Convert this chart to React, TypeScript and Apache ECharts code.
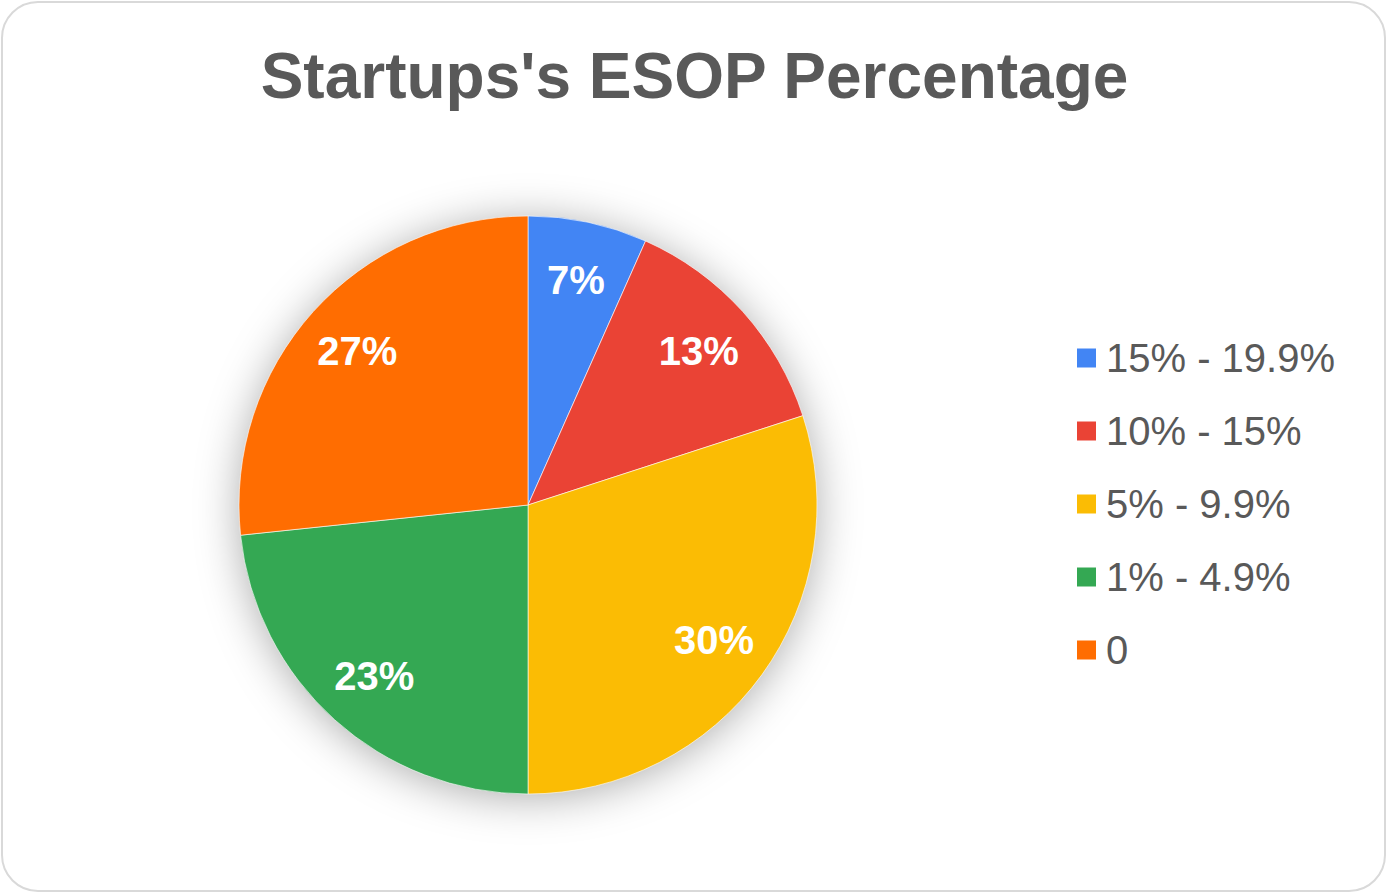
import React, { useEffect, useRef } from "react";
import * as echarts from "echarts";

const categories = ["15% - 19.9%", "10% - 15%", "5% - 9.9%", "1% - 4.9%", "0"];
const counts = [2, 4, 9, 7, 8];
const colors = ["#4285F4", "#EA4335", "#FBBC04", "#34A853", "#FF6D01"];
const titleText = "Startups's ESOP Percentage";

const W = 1389;
const H = 894;
const CX = 528;
const CY = 505;
const R = 289;

export default function App() {
  const ref = useRef<HTMLDivElement>(null);
  useEffect(() => {
    if (!ref.current) return;
    const chart = echarts.init(ref.current, null, { renderer: "svg" });
    const data = categories.map((name, i) => ({
      name,
      value: counts[i],
      itemStyle: { color: colors[i] },
    }));
    chart.setOption({
      animation: false,
      backgroundColor: "#ffffff",
      title: {
        text: titleText,
        left: "center",
        top: 39,
        textStyle: {
          fontFamily: "Liberation Sans, Arial, sans-serif",
          fontSize: 64,
          fontWeight: "bold",
          color: "#595959",
        },
      },
      legend: {
        orient: "vertical",
        left: 1075,
        top: 338,
        padding: 0,
        itemWidth: 21,
        itemHeight: 21,
        itemGap: 33,
        icon: "rect",
        data: categories,
        textStyle: {
          fontFamily: "Liberation Sans, Arial, sans-serif",
          fontSize: 40,
          lineHeight: 40,
          color: "#595959",
          padding: [0, 0, 0, 4],
        },
        selectedMode: false,
      },
      graphic: [
        {
          type: "rect",
          shape: { x: 2, y: 2, width: W - 6, height: H - 5, r: 36 },
          style: { fill: "none", stroke: "#d9d9d9", lineWidth: 2 },
          silent: true,
        },
        {
          type: "circle",
          shape: { cx: CX, cy: CY, r: R - 2 },
          style: {
            fill: "#ffffff",
            shadowBlur: 45,
            shadowColor: "rgba(0,0,0,0.35)",
            shadowOffsetX: 0,
            shadowOffsetY: 4,
          },
          silent: true,
          z: -1,
        },
      ],
      series: [
        {
          type: "pie",
          center: [CX, CY],
          radius: R,
          startAngle: 90,
          clockwise: true,
          silent: true,
          data,
          label: { show: false },
          labelLine: { show: false },
          itemStyle: { borderColor: "#ffffff", borderWidth: 0.6 },
        },
        {
          type: "pie",
          center: [CX, CY],
          radius: [R * 0.62, R * 0.95],
          startAngle: 90,
          clockwise: true,
          silent: true,
          z: 3,
          data: categories.map((name, i) => ({
            name,
            value: counts[i],
            itemStyle: { color: "rgba(0,0,0,0)" },
          })),
          label: {
            show: true,
            position: "inside",
            formatter: (p: any) => Math.round(p.percent) + "%",
            fontFamily: "Liberation Sans, Arial, sans-serif",
            fontSize: 40,
            fontWeight: "bold",
            color: "#ffffff",
          },
          labelLine: { show: false },
        },
      ],
    });
    return () => chart.dispose();
  }, []);
  return (
    <div
      ref={ref}
      style={{ position: "fixed", left: 0, top: 0, width: W, height: H }}
    />
  );
}
